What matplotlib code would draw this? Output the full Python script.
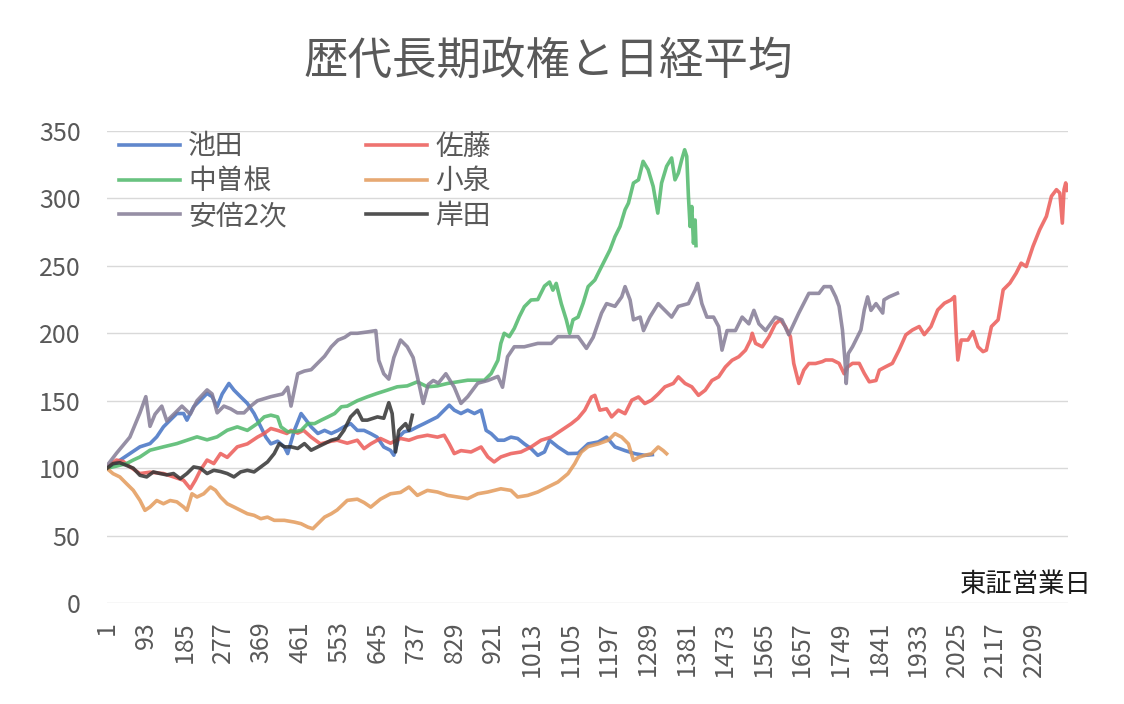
import matplotlib
matplotlib.use("Agg")
import matplotlib.pyplot as plt

plt.rcParams['font.family'] = ['Noto Sans CJK JP', 'DejaVu Sans']

TITLE = "歴代長期政権と日経平均"
X_LABEL = "東証営業日"
N_DAYS = 2290
X_TICKS = list(range(1, 2210, 92))
Y_TICKS = [0, 50, 100, 150, 200, 250, 300, 350]

SERIES_NAMES = ["池田", "佐藤", "中曽根", "小泉", "安倍2次", "岸田"]
SERIES_COLORS = ["#4472C4", "#EC5B57", "#4FB86A", "#E39A5A", "#847B95", "#333333"]

IKEDA_DAYS = [1, 31, 55, 79, 103, 119, 135, 151, 167, 183, 191, 207, 223, 239, 251, 263, 275, 291, 303, 319,
              335, 351, 367, 379, 391, 407, 423, 431, 447, 463, 475, 487, 503, 519, 535, 551, 565, 581, 597, 613,
              629, 644, 660, 676, 684, 696, 708, 724, 740, 756, 772, 788, 804, 816, 828, 844, 860, 876, 892, 904,
              916, 932, 947, 963, 979, 995, 1011, 1027, 1043, 1055, 1075, 1099, 1123, 1147, 1171, 1191, 1211, 1235,
              1259, 1282, 1300]
IKEDA_VALS = [100, 105.8, 110.8, 115.8, 118.2, 123.2, 130.6, 135.6, 140.5, 140.5, 135.6, 145.5, 150.4, 155.4, 153,
              145.5, 155, 162.8, 157.9, 152.9, 148, 140.5, 130.6, 123, 118, 120, 115.8, 110.8, 128, 140.5, 135.6,
              130.6, 125.7, 128, 125.7, 128, 130.6, 133, 128, 128, 125.6, 123, 115.7, 113.2, 109.6, 123, 126.9, 128,
              130.6, 133, 135.5, 138, 143, 146.7, 143, 140.5, 143, 140.5, 143, 128, 125.6, 120.7, 120.7, 123, 122,
              118, 114.5, 109.5, 112, 120.7, 115.7, 110.8, 111, 118, 119.4, 123, 115.7, 113, 110.7, 109.5, 110]

SATO_DAYS = [1, 23, 39, 55, 79, 103, 135, 159, 183, 199, 211, 223, 239, 255, 271, 287, 311, 335, 359, 375,
             391, 407, 429, 439, 455, 469, 487, 509, 535, 549, 573, 597, 613, 629, 652, 676, 700, 720, 740, 764,
             788, 804, 816, 828, 844, 868, 892, 908, 923, 939, 963, 987, 1011, 1035, 1059, 1083, 1107, 1123, 1139,
             1155, 1163, 1175, 1191, 1203, 1219, 1235, 1251, 1267, 1282, 1298, 1314, 1330, 1350, 1362, 1378, 1394,
             1410, 1426, 1442, 1458, 1474, 1490, 1506, 1522, 1534, 1538, 1546, 1562, 1578, 1593, 1605, 1617, 1629,
             1637, 1649, 1661, 1673, 1689, 1705, 1713, 1729, 1745, 1757, 1765, 1777, 1793, 1805, 1817, 1833, 1841,
             1856, 1872, 1888, 1904, 1920, 1936, 1948, 1964, 1980, 1996, 2012, 2020, 2024, 2028, 2036, 2052, 2064,
             2076, 2088, 2096, 2108, 2124, 2136, 2152, 2167, 2179, 2191, 2207, 2223, 2239, 2251, 2263, 2271, 2277,
             2281, 2285, 2289]
SATO_VALS = [100.9, 106, 105, 101, 96, 97, 96, 93.5, 91, 84.8, 91, 98.4, 106, 103.4, 110.8, 108, 115.8, 118, 123,
             125.7, 129.4, 128, 125.7, 128, 126, 128, 123, 118, 120, 120.7, 118.5, 120.7, 114.5, 118, 122, 118.5,
             122, 120.7, 123, 124.4, 123, 124.4, 118, 110.8, 113, 112, 115.7, 108.3, 104.6, 108.3, 110.8, 112, 115.7,
             120.7, 123, 128, 133, 137, 143, 152.8, 154, 143, 144, 138, 143, 140.4, 150.4, 152.8, 147.9, 150.4, 155,
             160.3, 162.8, 167.7, 162.8, 160.3, 154, 157.8, 165, 167.7, 175, 180, 182.6, 187.5, 195, 200, 192.5,
             190, 197.5, 207, 210, 205, 197.5, 177.6, 162.8, 172.7, 177.6, 177.6, 179, 180.2, 180.2, 177.7, 170,
             175, 177.7, 177.7, 170.3, 164, 165, 172.7, 175.2, 177.7, 187.6, 198.8, 202.5, 205, 199, 205, 217.3,
             222.3, 224.8, 227.2, 200, 180.2, 195, 195, 201.2, 190, 186.4, 187.5, 205, 210, 232.2, 237.2, 244.6,
             252, 249.5, 264.4, 276.8, 286.7, 301.6, 306.5, 304, 281.7, 306.5, 311.5, 306]

NAKASONE_DAYS = [1, 23, 47, 63, 79, 103, 135, 167, 191, 215, 239, 263, 287, 311, 335, 359, 375, 391, 407, 415,
                 431, 447, 463, 479, 495, 511, 527, 543, 559, 573, 597, 621, 644, 668, 692, 716, 740, 764, 788, 812,
                 836, 860, 884, 900, 916, 932, 939, 947, 959, 971, 983, 995, 1011, 1027, 1043, 1055, 1063, 1071,
                 1083, 1095, 1103, 1111, 1123, 1135, 1147, 1163, 1175, 1187, 1199, 1211, 1223, 1235, 1243, 1255,
                 1267, 1278, 1290, 1302, 1313, 1322, 1334, 1346, 1354, 1362, 1370, 1377, 1382, 1386, 1390, 1394,
                 1398, 1402, 1404]
NAKASONE_VALS = [100, 101.5, 103.4, 106, 108.3, 113.3, 115.8, 118.2, 120.7, 123.2, 121, 123.2, 128.1, 130.6, 128,
                 133.1, 138, 139.3, 138, 130.6, 127, 127, 128, 133.1, 133, 135.6, 138, 140.5, 145.5, 146, 150,
                 152.9, 155.4, 157.8, 160.3, 161, 164, 160.3, 161, 162.8, 164, 165.2, 165.2, 165.2, 170.2, 180,
                 192.5, 200, 197.5, 203.6, 212.3, 219.7, 224.7, 225, 235, 238, 232, 237, 222, 210, 200, 210, 212,
                 222.2, 234.6, 239.5, 247, 254.4, 261.8, 271.7, 279.2, 291.6, 296.5, 311.4, 313.8, 327.5, 321.3,
                 308.9, 289.1, 311.4, 323.8, 330, 313.8, 318.8, 328.7, 336.1, 331.2, 301.5, 279.2, 294, 266.8, 284,
                 265]

KOIZUMI_DAYS = [1, 15, 31, 47, 63, 79, 91, 103, 119, 135, 151, 167, 183, 191, 203, 215, 231, 247, 259, 271,
                287, 303, 319, 335, 351, 367, 383, 399, 423, 447, 463, 479, 491, 503, 519, 535, 549, 573, 597, 613,
                629, 652, 676, 700, 720, 740, 764, 788, 812, 836, 860, 884, 908, 939, 963, 979, 1003, 1027, 1051,
                1075, 1099, 1115, 1123, 1131, 1147, 1171, 1195, 1211, 1227, 1243, 1255, 1267, 1282, 1298, 1314,
                1326, 1334]
KOIZUMI_VALS = [99.6, 95.9, 93.5, 88.5, 83.6, 76.1, 68.7, 71.2, 76, 73.6, 76, 75, 71.2, 68.7, 81, 78.6, 81, 86,
                83.6, 78.6, 73.6, 71.2, 68.7, 66.2, 65, 62.5, 63.7, 61.3, 61.3, 60, 58.8, 56.3, 55.1, 58.8, 63.7,
                66.2, 69, 76.1, 77, 74.5, 71.1, 77, 81, 82, 86, 79.8, 83.5, 82.3, 79.8, 78.6, 77.4, 81, 82.3, 84.7,
                83.5, 78.6, 79.8, 82.3, 86, 89.7, 95.9, 103.3, 108, 112, 116, 118, 120.7, 125.6, 123, 118, 105.8,
                108, 109.5, 110.7, 115.7, 113, 110.7]

ABE_DAYS = [1, 23, 55, 79, 93, 103, 115, 131, 143, 163, 179, 199, 215, 239, 251, 263, 279, 295, 311, 327,
            343, 359, 391, 419, 431, 439, 455, 471, 487, 503, 519, 535, 551, 567, 581, 597, 621, 641, 648, 660,
            672, 684, 700, 716, 730, 740, 754, 766, 778, 790, 808, 828, 844, 860, 884, 908, 932, 943, 955, 971,
            995, 1027, 1059, 1075, 1107, 1123, 1143, 1159, 1179, 1191, 1211, 1227, 1235, 1247, 1255, 1271, 1279,
            1294, 1314, 1330, 1346, 1362, 1386, 1402, 1408, 1418, 1430, 1446, 1458, 1466, 1478, 1498, 1514, 1530,
            1542, 1554, 1570, 1593, 1609, 1625, 1637, 1649, 1673, 1697, 1709, 1725, 1737, 1745, 1753, 1759, 1762,
            1767, 1777, 1789, 1797, 1805, 1813, 1821, 1833, 1849, 1852, 1864, 1884]
ABE_VALS = [102, 111, 123, 141, 153, 131, 140, 146, 135, 141, 146, 140, 150, 158, 155, 141, 146, 144, 141, 141,
            146, 150, 153, 155, 160, 146, 170, 172, 173, 178, 183, 190, 195, 197, 200, 200, 201, 202, 180, 170,
            166, 182, 195, 190, 182, 168, 148, 162, 165, 163, 170, 160, 148, 153, 163, 165, 168, 160, 182.6, 190,
            190, 192.5, 192.5, 197.5, 197.5, 197.5, 188.8, 197, 215, 222, 220, 227, 234.6, 224.7, 210, 212, 202,
            212, 222, 217, 212, 220, 222, 232, 237, 222, 212, 212, 205, 187.5, 202, 202, 212, 207, 217, 207, 202,
            212, 210, 199, 207, 215, 229.6, 229.6, 234.6, 234.6, 227, 220, 202.5, 180, 162.8, 185, 190, 197.5,
            202.5, 217.3, 227, 217, 222, 215, 224.8, 227, 229.7]

KISHIDA_DAYS = [1, 15, 31, 47, 63, 79, 95, 111, 127, 143, 159, 175, 191, 207, 223, 239, 255, 271, 287, 303,
                319, 335, 351, 367, 383, 399, 411, 423, 439, 455, 471, 487, 503, 519, 535, 551, 565, 581, 597, 609,
                621, 645, 660, 672, 680, 688, 696, 704, 712, 720, 728]
KISHIDA_VALS = [100, 103.4, 104, 102, 100, 94.7, 93.5, 97.2, 96, 95, 96, 92.2, 96, 100.9, 100, 96, 98.4, 97.5, 96,
                93.5, 97.2, 98.4, 97.2, 100.9, 104.6, 110.8, 118.2, 115.8, 115.8, 114.6, 118.2, 113.3, 115.8, 118.2,
                120.7, 122, 128, 138, 143, 135.6, 135.6, 138, 137, 148.5, 140.5, 112, 128, 130.6, 133, 128, 139.2]

SERIES_DAYS = [IKEDA_DAYS, SATO_DAYS, NAKASONE_DAYS, KOIZUMI_DAYS, ABE_DAYS, KISHIDA_DAYS]
SERIES_VALS = [IKEDA_VALS, SATO_VALS, NAKASONE_VALS, KOIZUMI_VALS, ABE_VALS, KISHIDA_VALS]

TEXT_GRAY = "#595959"
GRID = "#D9D9D9"

fig = plt.figure(figsize=(11.24, 7.04), dpi=100)
ax = fig.add_axes([107 / 1124, 1 - 603 / 704, 961 / 1124, 472 / 704])

handles = []
for name, color, d, v in zip(SERIES_NAMES, SERIES_COLORS, SERIES_DAYS, SERIES_VALS):
    h, = ax.plot(d, v, color=color, lw=2.6, alpha=0.85, label=name, solid_joinstyle="round")
    handles.append(h)

ax.set_xlim(0.5, N_DAYS + 0.5)
ax.set_ylim(0, 350)
ax.set_yticks(Y_TICKS)
ax.set_xticks(X_TICKS)
ax.set_xticklabels([str(t) for t in X_TICKS], rotation=90, va="top", ha="center")
ax.tick_params(axis="both", length=0, labelsize=18, labelcolor=TEXT_GRAY)
ax.tick_params(axis="y", pad=19)
ax.tick_params(axis="x", pad=13)
ax.grid(axis="y", color=GRID, lw=1.0)
ax.set_axisbelow(True)
for s in ax.spines.values():
    s.set_visible(False)

# legend laid out row by row (2 columns) as in the original
order = [0, 2, 4, 1, 3, 5]
leg = ax.legend([handles[i] for i in order], [SERIES_NAMES[i] for i in order],
                ncol=2, loc="upper left", bbox_to_anchor=(0.012, 0.999), frameon=False,
                fontsize=20, handlelength=2.2, handletextpad=0.3, columnspacing=2.85,
                labelspacing=0.175, borderaxespad=0, borderpad=0)
for t in leg.get_texts():
    t.set_color(TEXT_GRAY)

fig.text(548 / 1124, 1 - 61 / 704, TITLE, ha="center", va="center", fontsize=32, color=TEXT_GRAY)
fig.text(1092 / 1124, 1 - 585 / 704, X_LABEL, ha="right", va="center", fontsize=19, color="#1A1A1A")

fig.savefig("out.png", dpi=100)
